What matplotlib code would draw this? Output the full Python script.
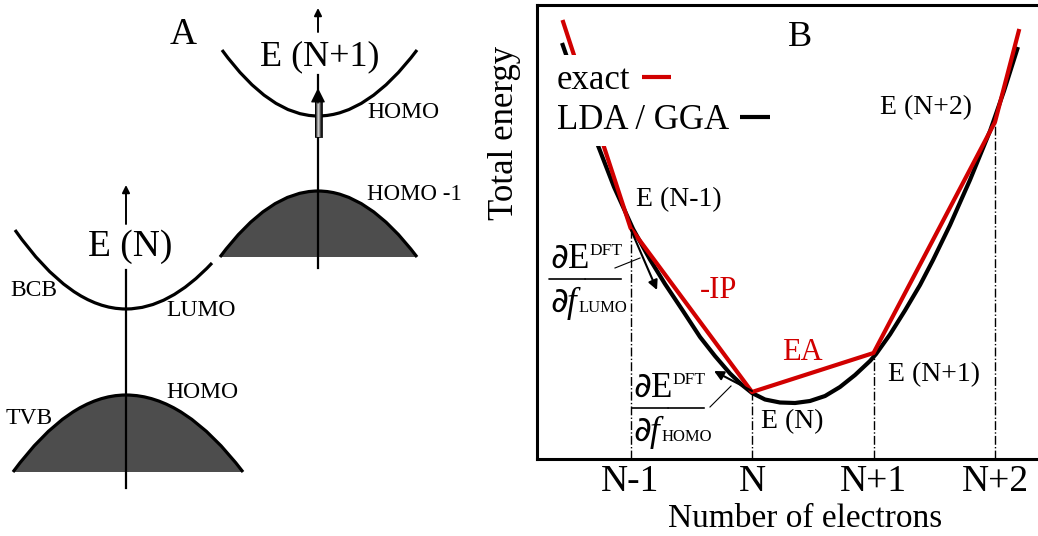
import numpy as np
import matplotlib
matplotlib.use("Agg")
import matplotlib.pyplot as plt
from matplotlib.path import Path
from matplotlib.patches import PathPatch

plt.rcParams['font.family'] = ['Liberation Serif', 'DejaVu Serif']
plt.rcParams['mathtext.fontset'] = 'stix'

RED = '#d10000'
GREY = '#4d4d4d'

# ---- panel A: schematic bands (pixel coords: left end, apex, right end)
cb_n = [(15, 230), (126, 309), (212, 263)]
vb_n = [(13, 472), (126, 395), (243, 472)]
cb_n1 = [(222, 50), (318, 116), (417, 50)]
vb_n1 = [(220, 257), (318, 191), (417, 257)]

# ---- panel B: total energy vs number of electrons
n_ticks = [-1, 0, 1, 2]
tick_labels = ['N-1', 'N', 'N+1', 'N+2']

n_exact = [-1.56, -1, 0, 1, 2, 2.2]
e_exact = [4.39, 2.31, 0.67, 1.06, 3.37, 4.30]

n_lda = [-1.564, -1.498, -1.276, -1.136, -0.979, -0.840, -0.716, -0.568, -0.428,
         -0.305, -0.181, -0.082, 0.0, 0.107, 0.230, 0.354, 0.477, 0.601, 0.724,
         0.848, 0.971, 1.021, 1.136, 1.259, 1.383, 1.490, 1.630, 1.794, 1.959,
         2.074, 2.189]
e_lda = [4.16, 3.93, 3.16, 2.72, 2.30, 1.995, 1.75, 1.48, 1.22,
         1.03, 0.855, 0.74, 0.66, 0.595, 0.565, 0.56, 0.58, 0.63, 0.72,
         0.84, 0.98, 1.05, 1.246, 1.485, 1.74, 1.99, 2.34, 2.79, 3.28,
         3.68, 4.12]


def band_path(pts, closed=False):
    # two parabola halves meeting at the apex
    (x0, y0), (xv, yv), (x2, y2) = pts
    verts = [(x0, y0), ((x0 + xv) / 2, yv), (xv, yv), ((xv + x2) / 2, yv), (x2, y2)]
    codes = [Path.MOVETO, Path.CURVE3, Path.CURVE3, Path.CURVE3, Path.CURVE3]
    if closed:
        verts += [(x0, y0)]
        codes += [Path.LINETO]
    return Path(verts, codes)


def deriv_label(ax, xy, sub):
    # dE^DFT / df_sub, xy = centre of the fraction bar
    pts = dict(xy=xy, textcoords='offset points', va='baseline', ha='left')
    ax.annotate(r'$\partial$E', xytext=(-25, 8), fontsize=25, math_fontfamily='dejavusans', **pts)
    ax.annotate('DFT', xytext=(3, 17), fontsize=12.5, **pts)
    for side in (-26, 26):
        ax.annotate('', xy=xy, xytext=(side, 0), textcoords='offset points',
                    arrowprops=dict(arrowstyle='-', lw=1.2, color='black', shrinkA=0, shrinkB=0))
    ax.annotate(r'$\partial$', xytext=(-25, -24), fontsize=25, math_fontfamily='dejavusans', **pts)
    ax.annotate('f', xytext=(-13, -24), fontsize=25, fontstyle='italic', **pts)
    ax.annotate(sub, xytext=(-5, -24), fontsize=12, **pts)


fig = plt.figure(figsize=(10.38, 5.36), dpi=100)

# ================= panel A =================
axA = fig.add_axes([0, 0, 1, 1])
axA.axis('off')

for hill in (vb_n, vb_n1):
    axA.add_patch(PathPatch(band_path(hill, closed=True), fc=GREY, ec='none', zorder=1))
    axA.add_patch(PathPatch(band_path(hill), fc='none', ec='black', lw=2.3, zorder=3))
for cb in (cb_n, cb_n1):
    axA.add_patch(PathPatch(band_path(cb), fc='none', ec='black', lw=2.3, zorder=3))

# energy axes
axA.plot([126, 126], [488, 270], color='black', lw=1.6, zorder=2)
axA.plot([318, 318], [268, 75], color='black', lw=1.6, zorder=2)
for x0, y0, y1 in ((126, 224, 185), (318, 32, 8)):
    axA.annotate('', xy=(x0, y1), xytext=(x0, y0),
                 arrowprops=dict(arrowstyle='-|>', color='black', lw=1.4, mutation_scale=11,
                                 shrinkA=0, shrinkB=0))

# electron added to HOMO (shaded thick arrow)
axA.imshow(np.array([[0.05, 0.45, 0.95, 0.45, 0.05]]), cmap='gray', vmin=0, vmax=1,
           extent=(314.5, 321.5, 137, 101), aspect='auto', interpolation='bicubic', zorder=4)
axA.plot([314.5, 314.5, 321.5, 321.5, 314.5], [101, 137, 137, 101, 101], color='black', lw=0.6, zorder=5)
axA.annotate('', xy=(318, 88), xytext=(318, 103),
             arrowprops=dict(arrowstyle='-|>', color='black', lw=1, mutation_scale=22,
                             shrinkA=0, shrinkB=0), zorder=5)
axA.set_xlim(0, 1038)
axA.set_ylim(536, 0)

axA.text(183, 35, 'A', fontsize=27, ha='center', va='center')
axA.text(320, 57, 'E (N+1)', fontsize=26, ha='center', va='center')
axA.text(130, 247, 'E (N)', fontsize=27, ha='center', va='center')
axA.text(367, 112, 'HOMO', fontsize=17, ha='left', va='center')
axA.text(367, 195, 'HOMO -1', fontsize=16.5, ha='left', va='center')
axA.text(10, 290, 'BCB', fontsize=17, ha='left', va='center')
axA.text(166, 311, 'LUMO', fontsize=17, ha='left', va='center')
axA.text(166, 392, 'HOMO', fontsize=17, ha='left', va='center')
axA.text(6, 418, 'TVB', fontsize=17, ha='left', va='center')

# ================= panel B =================
axB = fig.add_axes([537 / 1038, 77 / 536, 501 / 1038, 454 / 536])
axB.set_xlim(-1.77, 2.354)
axB.set_ylim(0, 4.54)

lda_line, = axB.plot(n_lda, e_lda, color='black', lw=3, zorder=3, solid_capstyle='butt')
exact_line, = axB.plot(n_exact, e_exact, color=RED, lw=3, zorder=4, solid_capstyle='butt')

axB.vlines(n_ticks, 0, e_exact[1:5], colors='black', linestyles='dashdot', lw=1, zorder=2)

for side in ('left', 'top', 'bottom'):
    axB.spines[side].set_linewidth(2.2)
axB.spines['right'].set_visible(False)
axB.set_yticks([])
axB.set_xticks(n_ticks)
axB.set_xticklabels(tick_labels, fontsize=27)
axB.tick_params(axis='x', length=0, pad=4)
axB.set_xlabel('Number of electrons', fontsize=24)
axB.xaxis.set_label_coords(0.535, -0.098)
axB.set_ylabel('Total energy', fontsize=25)
axB.yaxis.set_label_coords(-0.032, 0.718)

# legends, one row each: label then line sample
leg_kw = dict(loc='upper left', markerfirst=False, fontsize=25, handlelength=0.85,
              handletextpad=0.32, frameon=True, framealpha=1, facecolor='white',
              edgecolor='none', fancybox=False, borderpad=0.26, borderaxespad=0)
leg1 = axB.legend([exact_line], ['exact'], bbox_to_anchor=(0.022, 0.89), **leg_kw)
axB.add_artist(leg1)
axB.legend([lda_line], ['LDA / GGA'], bbox_to_anchor=(0.022, 0.802), **leg_kw)

axB.text(0.395, 4.21, 'B', fontsize=26, ha='center', va='center')
axB.text(-0.955, 2.59, 'E (N-1)', fontsize=20, ha='left', va='center')
axB.text(1.053, 3.51, 'E (N+2)', fontsize=20, ha='left', va='center')
axB.text(1.12, 0.84, 'E (N+1)', fontsize=20, ha='left', va='center')
axB.text(0.074, 0.37, 'E (N)', fontsize=20, ha='left', va='center')
axB.text(-0.428, 1.68, '-IP', fontsize=22, color=RED, ha='left', va='center')
axB.text(0.247, 1.06, 'EA', fontsize=22, color=RED, ha='left', va='center')

deriv_label(axB, (-1.374, 1.80), 'LUMO')
deriv_label(axB, (-0.691, 0.51), 'HOMO')

# derivative arrows along the curve and their leader lines
axB.annotate('', xy=(-0.782, 1.69), xytext=(-0.996, 2.29),
             arrowprops=dict(arrowstyle='-|>', color='black', lw=1.5, mutation_scale=14,
                             shrinkA=0, shrinkB=0), zorder=5)
axB.plot([-1.128, -0.922], [1.91, 2.01], color='black', lw=0.8)
axB.annotate('', xy=(-0.313, 0.88), xytext=(0.0, 0.68),
             arrowprops=dict(arrowstyle='-|>', color='black', lw=1.5, mutation_scale=14,
                             shrinkA=0, shrinkB=0), zorder=5)
axB.plot([-0.346, -0.173], [0.52, 0.73], color='black', lw=0.8)

fig.savefig('out.png', dpi=100)
